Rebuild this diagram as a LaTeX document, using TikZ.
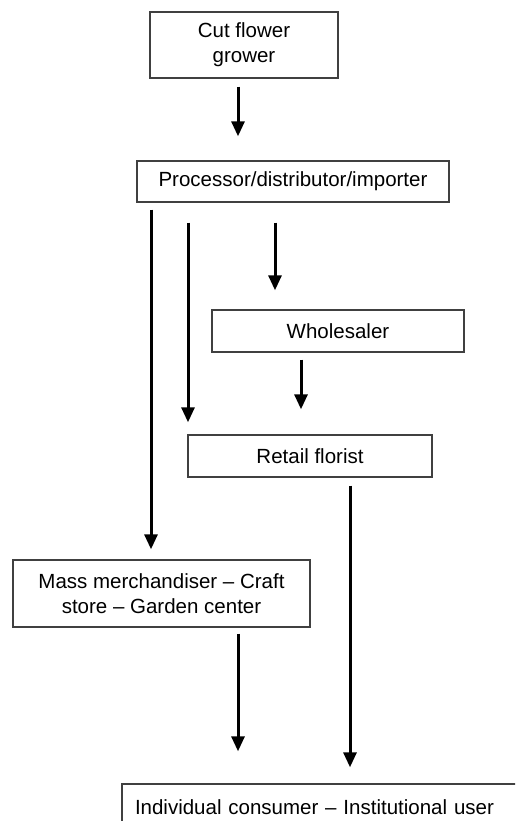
\documentclass[tikz,border=0pt]{standalone}
\usepackage{fontspec}
\setmainfont{Liberation Sans}
\usetikzlibrary{arrows.meta}
\begin{document}
\begin{tikzpicture}[x=1pt,y=-1pt,
  box/.style={draw=black!75,line width=1.4pt,rectangle,inner sep=0pt,font=\fontsize{20.5}{25}\selectfont,align=center},
  arr/.style={draw=black,line width=3pt,-{Triangle[length=15pt,width=13pt]}}]
\clip (0,0) rectangle (515,821);
\fill[white] (0,0) rectangle (515,821);
\node[box,minimum width=188pt,minimum height=66pt] (grower) at (244,45) {Cut flower\\grower};
\node[box,minimum width=312pt,minimum height=41pt] (proc) at (293,181.5) {Processor/distributor/importer};
\node[box,minimum width=252pt,minimum height=42pt] (whole) at (338,331) {Wholesaler};
\node[box,minimum width=244pt,minimum height=42pt] (retail) at (310,456) {Retail florist};
\node[box,minimum width=297pt,minimum height=67pt] (mass) at (161.5,593.5) {Mass merchandiser -- Craft\\store -- Garden center};
\node[box,minimum height=46pt,text width=398pt,align=left] (cons) at (321,807) {\hspace*{13pt}Individual consumer -- Institutional user};
\draw[arr,shorten <=8pt,shorten >=24pt] (grower.south -| 238,0) -- (proc.north -| 238,0);
\draw[arr,shorten <=7pt,shorten >=10pt] (proc.south -| 151,0) -- (mass.north -| 151,0);
\draw[arr,shorten <=20pt,shorten >=12pt] (proc.south -| 188,0) -- (retail.north -| 188,0);
\draw[arr,shorten <=20pt,shorten >=19pt] (proc.south -| 275,0) -- (whole.north -| 275,0);
\draw[arr,shorten <=7pt,shorten >=25pt] (whole.south -| 301,0) -- (retail.north -| 301,0);
\draw[arr,shorten <=8pt,shorten >=16pt] (retail.south -| 350,0) -- (cons.north -| 350,0);
\draw[arr,shorten <=6pt,shorten >=32pt] (mass.south -| 238,0) -- (cons.north -| 238,0);
\end{tikzpicture}
\end{document}
